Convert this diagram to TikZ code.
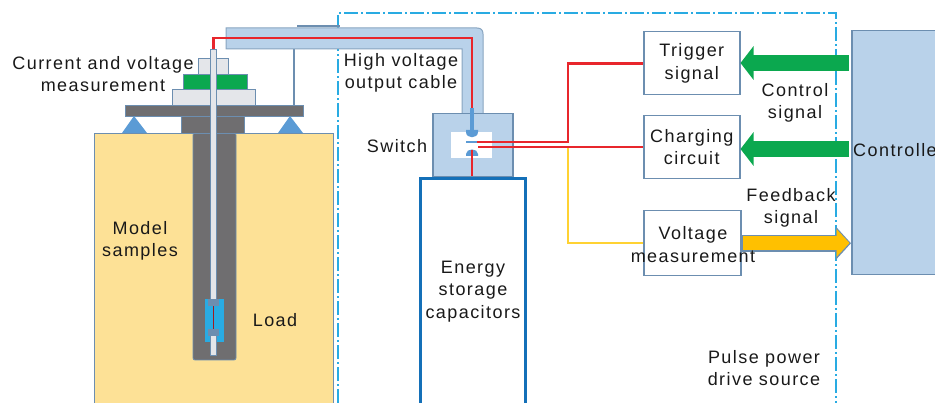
\documentclass[tikz,border=0pt]{standalone}
\usepackage{fontspec}
\setmainfont[LetterSpace=8]{Liberation Sans}
\definecolor{sample}{HTML}{FDE196}
\definecolor{steel}{HTML}{6C8EB0}
\definecolor{cable}{HTML}{B9D2EA}
\definecolor{contact}{HTML}{5B9BD5}
\definecolor{metal}{HTML}{6F6E70}
\definecolor{pale}{HTML}{E4E6EA}
\definecolor{wire}{HTML}{E8262C}
\definecolor{sense}{HTML}{FFD232}
\definecolor{ctrl}{HTML}{0BA84F}
\definecolor{feed}{HTML}{FFC000}
\definecolor{frame}{HTML}{29ABE2}
\definecolor{store}{HTML}{1470B8}
\usetikzlibrary{arrows.meta}
\tikzset{
  label/.style={inner sep=0pt,align=center,text=black!90,font=\fontsize{18}{22.5}\selectfont},
  block/.style={draw=steel,line width=1.5pt,fill=white,anchor=north west,inner sep=0pt,align=center,font=\fontsize{18}{22.5}\selectfont,text=black!90},
  part/.style={draw=steel,line width=0.8pt},
  redwire/.style={wire,line width=2.6pt,line join=miter},
  fatarrow/.style={line width=16pt,-{Triangle[length=13pt,width=33pt]}}
}
\begin{document}
\begin{tikzpicture}[x=1pt,y=-1pt]
  \useasboundingbox (0,0) rectangle (935,403);

  \draw[frame,line width=1.6pt,dash pattern=on 14pt off 3pt on 2pt off 3pt] (338,403) -- (338,13) -- (836,13) -- (836,403);

  \draw[part,fill=sample] (94,403) -- (94,133) -- (333,133) -- (333,403);
  \draw[part,fill=metal,rounded corners=2pt] (193,133) -- (193,360) -- (236,360) -- (236,133) -- cycle;
  \draw[part,fill=metal] (181,116) rectangle (244,133);
  \draw[part,fill=metal] (125,105) rectangle (303,116);
  \fill[contact] (122,133) -- (134,116) -- (147,133) -- cycle;
  \fill[contact] (278,133) -- (290,116) -- (303,133) -- cycle;
  \draw[part,fill=pale] (172,89) rectangle (255,105);
  \draw[part,fill=ctrl] (183,74) rectangle (247,89);
  \draw[part,fill=pale] (198,58) rectangle (228,74);

  \fill[frame] (205,299) rectangle (224,342);
  \draw[part,fill=pale] (210.5,49) rectangle (216.5,303);
  \draw[part,fill=pale] (210.5,332) rectangle (216.5,355);
  \fill[steel] (208,299) rectangle (219,306);
  \fill[steel] (208,329) rectangle (219,336);
  \draw[wire!70!black,line width=1.5pt] (213.5,306) -- (213.5,329);

  \draw[steel,line width=1.2pt] (294,49) -- (294,105);
  \draw[steel,line width=1.2pt] (297,26) -- (340,26);
  \draw[draw=steel!80,fill=cable,line width=1pt] (226,28) -- (477,28) .. controls (481,28) and (483,30) .. (483,34) -- (483,114) -- (462,114) -- (462,49) -- (226,49) -- cycle;

  \node[block,fill=cable,minimum width=80pt,minimum height=63pt] (switch) at (432,113) {};
  \fill[white] (451,132) rectangle (492,158);
  \node[block,draw=store,line width=3pt,minimum width=105pt,minimum height=226pt] (storage) at (419,177) {Energy\\storage\\capacitors};

  \coordinate (gaptop) at (476,142);
  \coordinate (gapbot) at (476,147);
  \coordinate (cablein) at (472,38);
  \coordinate (rodtop) at (213.5,49);

  \node[block,minimum width=96pt,minimum height=63pt] (trigger) at (643,31) {Trigger\\signal};
  \node[block,minimum width=96pt,minimum height=63pt] (charging) at (643,115) {Charging\\circuit};
  \node[block,minimum width=97pt,minimum height=65pt] (voltage) at (643,210) {};
  \node[block,fill=cable,minimum width=90pt,minimum height=244pt] (controller) at (851,30) {};
  \coordinate (trigtail) at (849,63);
  \coordinate (chargetail) at (849,149);

  \draw[sense,line width=1.6pt] (568,147) |- (voltage.west);
  \draw[redwire] (rodtop) -- (213.5,38) -- (cablein) -- (472,108);
  \draw[redwire] (gaptop) -- (568,142) |- (trigger.west);
  \draw[redwire] (478,147) -- (charging.west |- gapbot);

  \draw[contact,line width=4pt] (471.5,108) -- (471.5,131);
  \fill[contact] (466,130) -- (478,130) -- (478,132) .. controls (478,139) and (466,139) .. (466,132) -- cycle;
  \draw[contact,line width=1.5pt] (466,142) -- (477,142);
  \fill[contact] (466,156) -- (478,156) -- (478,154) .. controls (478,148) and (466,148) .. (466,154) -- cycle;
  \draw[wire,line width=2.6pt] (472,150) -- (472,176);

  \draw[fatarrow,ctrl] (trigtail) -- (trigger.east |- trigtail);
  \draw[fatarrow,ctrl] (chargetail) -- (charging.east |- chargetail);
  \draw[line width=17pt,steel,-{Triangle[length=15pt,width=32pt]}] (voltage.east) -- (controller.west |- voltage.east);
  \draw[line width=14pt,feed,-{Triangle[length=13pt,width=27pt]}] (743,243) -- (849.5,243);

  \node[label] (measure) at (103,74) {Current and voltage\\measurement};
  \node[label] (cabletext) at (401,73) {High voltage\\output cable};
  \node[label] (switchtext) at (397,146) {Switch};
  \node[label] (modeltext) at (140,241) {Model\\samples};
  \node[label] (loadtext) at (275,320) {Load};
  \node[label] (controltext) at (795,103) {Control\\signal};
  \node[label] (feedbacktext) at (791,208) {Feedback\\signal};
  \node[label] (drivetext) at (764,368) {Pulse power\\drive source};
  \node[label] (voltagetext) at (693,244.5) {Voltage\\measurement};
  \node[label,anchor=west] (controllertext) at (853,150) {Controlle};
\end{tikzpicture}
\end{document}
